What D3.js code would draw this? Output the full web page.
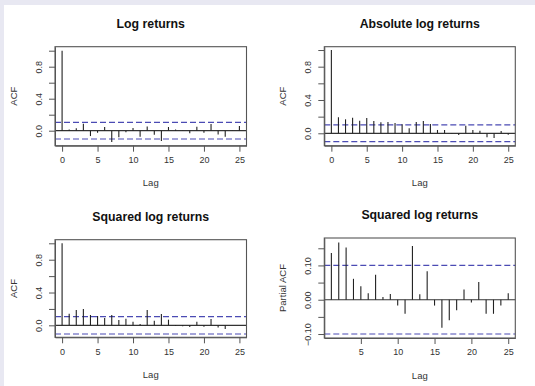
<!DOCTYPE html>
<html>
<head>
<meta charset="utf-8">
<script src="https://cdn.jsdelivr.net/npm/d3@7"></script>
<style>
  html, body { margin: 0; padding: 0; background: #e8e8f2; }
  #viz { position: absolute; left: 4px; top: 5px; }
  text { font-family: "Liberation Sans", Arial, sans-serif; fill: #333; }
</style>
</head>
<body>
<div id="viz"></div>
<script>
// ACF / PACF values
const lagsAcf = d3.range(0, 26);
const lagsPacf = d3.range(1, 26);

const acfLog = [1, 0.015, 0.03, 0.088, -0.067, -0.025, 0.046, -0.14, -0.083, -0.02,
    0.033, -0.075, 0.054, -0.05, -0.13, 0.046, 0.015, -0.005, -0.033, 0.05,
    -0.025, 0.083, -0.046, -0.075, 0.003, 0.058];

const acfAbs = [1, 0.192, 0.168, 0.188, 0.152, 0.184, 0.148, 0.132, 0.136, 0.124,
    0.108, 0.06, 0.136, 0.148, 0.112, 0.04, 0.04, 0.003, -0.02, 0.092,
    0.04, 0.032, -0.048, -0.056, 0.028, -0.016];

const acfSq = [1, 0.142, 0.187, 0.2, 0.126, 0.114, 0.089, 0.126, 0.065, 0.081,
    0.045, 0.016, 0.187, 0.057, 0.138, 0.069, -0.008, -0.012, -0.02, 0.045,
    -0.016, 0.077, -0.028, -0.045, 0.002, 0.002];

const pacfSq = [0.136, 0.167, 0.152, 0.061, 0.039, 0.019, 0.073, 0.008, 0.017, -0.017,
    -0.041, 0.157, 0.016, 0.083, -0.017, -0.082, -0.060, -0.031, 0.030, -0.008,
    0.052, -0.041, -0.041, -0.017, 0.019];

const ciBands = [0.104, 0.1, 0.106, 0.1];
const titles = ['Log returns', 'Absolute log returns', 'Squared log returns', 'Squared log returns'];
const yLabels = ['ACF', 'ACF', 'ACF', 'Partial ACF'];
const yTicksAcf = [0, 0.2, 0.4, 0.6, 0.8, 1.0];
const yTicksPacf = [-0.10, -0.05, 0, 0.05, 0.10, 0.15];
const xTicksAcf = [0, 5, 10, 15, 20, 25];
const xTicksPacf = [5, 10, 15, 20, 25];

const width = 531;
const height = 381;

const svg = d3.select('#viz')
    .append('svg')
    .attr('width', width)
    .attr('height', height)
    .style('background', '#fff');

// page offset is 4,5 so box coords below are in svg space
const panels = [
    { lags: lagsAcf, vals: acfLog, ci: ciBands[0], title: titles[0], ylab: yLabels[0],
      yTicks: yTicksAcf, yLabelled: [0, 0.4, 0.8], fmt: d3.format('.1f'), xTicks: xTicksAcf,
      box: [51, 242.5, 41.7, 140.7], xDom: [-1, 26], yDom: [-0.1875, 1.05] },
    { lags: lagsAcf, vals: acfAbs, ci: ciBands[1], title: titles[1], ylab: yLabels[1],
      yTicks: yTicksAcf, yLabelled: [0, 0.4, 0.8], fmt: d3.format('.1f'), xTicks: xTicksAcf,
      box: [320.3, 511.3, 41.7, 140.7], xDom: [-1, 26], yDom: [-0.149, 1.04] },
    { lags: lagsAcf, vals: acfSq, ci: ciBands[2], title: titles[2], ylab: yLabels[2],
      yTicks: yTicksAcf, yLabelled: [0, 0.4, 0.8], fmt: d3.format('.1f'), xTicks: xTicksAcf,
      box: [51, 242.5, 234.7, 332.3], xDom: [-1, 26], yDom: [-0.146, 1.044] },
    { lags: lagsPacf, vals: pacfSq, ci: ciBands[3], title: titles[3], ylab: yLabels[3],
      yTicks: yTicksPacf, yLabelled: [-0.1, 0, 0.1], fmt: d3.format('.2f'), xTicks: xTicksPacf,
      box: [320.3, 511.3, 233, 333], xDom: [0.04, 25.96], yDom: [-0.1116, 0.18] }
];

panels.forEach(p => {
    const [left, right, top, bottom] = p.box;
    const x = d3.scaleLinear().domain(p.xDom).range([left, right]);
    const y = d3.scaleLinear().domain(p.yDom).range([bottom, top]);
    const g = svg.append('g').attr('class', 'panel');

    // title
    g.append('text')
        .attr('x', (left + right) / 2)
        .attr('y', top - 19)
        .attr('text-anchor', 'middle')
        .style('font-size', '12.3px')
        .style('font-weight', 'bold')
        .style('fill', '#111')
        .text(p.title);

    // confidence band
    [p.ci, -p.ci].forEach(c => {
        g.append('line')
            .attr('x1', left).attr('x2', right)
            .attr('y1', y(c)).attr('y2', y(c))
            .attr('stroke', '#4b4bb4')
            .attr('stroke-width', 1.2)
            .attr('stroke-dasharray', '6,3');
    });

    // zero line
    g.append('line')
        .attr('x1', left).attr('x2', right)
        .attr('y1', y(0)).attr('y2', y(0))
        .attr('stroke', '#333')
        .attr('stroke-width', 1.2);

    // spikes
    g.selectAll('.spike')
        .data(p.lags.map((l, i) => ({ lag: l, v: p.vals[i] })))
        .enter()
        .append('line')
        .attr('class', 'spike')
        .attr('x1', d => x(d.lag)).attr('x2', d => x(d.lag))
        .attr('y1', y(0)).attr('y2', d => y(d.v))
        .attr('stroke', '#222')
        .attr('stroke-width', 1.1);

    // box
    g.append('rect')
        .attr('x', left).attr('y', top)
        .attr('width', right - left).attr('height', bottom - top)
        .attr('fill', 'none')
        .attr('stroke', '#555')
        .attr('stroke-width', 1.1);

    // y axis
    const yAxis = d3.axisLeft(y)
        .tickValues(p.yTicks)
        .tickSizeInner(6)
        .tickSizeOuter(0)
        .tickPadding(3)
        .tickFormat(d => p.yLabelled.some(v => Math.abs(v - d) < 1e-9) ? p.fmt(d) : '');
    const ya = g.append('g')
        .attr('transform', `translate(${left},0)`)
        .call(yAxis);
    ya.select('.domain').attr('stroke', '#555');
    ya.selectAll('.tick line').attr('stroke', '#555');
    ya.selectAll('.tick text')
        .attr('x', null).attr('dy', null)
        .attr('transform', 'translate(-16,0) rotate(-90)')
        .attr('text-anchor', 'middle')
        .attr('dominant-baseline', 'central')
        .style('font-size', '9px')
        .style('fill', '#333');

    // x axis
    const xAxis = d3.axisBottom(x)
        .tickValues(p.xTicks)
        .tickSizeInner(6)
        .tickSizeOuter(0)
        .tickPadding(5);
    const xa = g.append('g')
        .attr('transform', `translate(0,${bottom})`)
        .call(xAxis);
    xa.select('.domain').attr('stroke', '#555');
    xa.selectAll('.tick line').attr('stroke', '#555');
    xa.selectAll('.tick text')
        .style('font-size', '9px')
        .style('fill', '#333');

    // axis labels
    g.append('text')
        .attr('x', (left + right) / 2)
        .attr('y', bottom + 37)
        .attr('text-anchor', 'middle')
        .attr('dominant-baseline', 'central')
        .style('font-size', '9.5px')
        .text('Lag');

    g.append('text')
        .attr('transform', `translate(${left - 42},${(top + bottom) / 2}) rotate(-90)`)
        .attr('text-anchor', 'middle')
        .attr('dominant-baseline', 'central')
        .style('font-size', '9.5px')
        .text(p.ylab);
});
</script>
</body>
</html>
